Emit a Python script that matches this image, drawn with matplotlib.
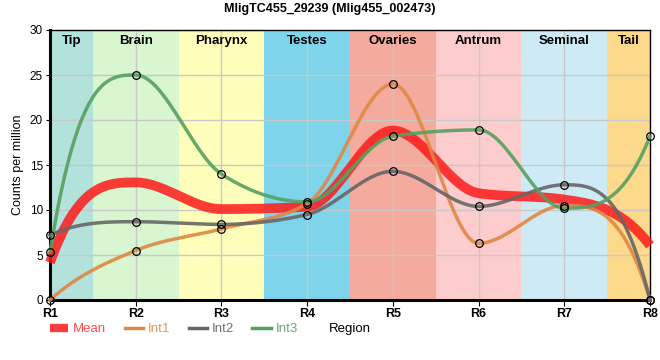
import numpy as np
import matplotlib
matplotlib.use('Agg')
import matplotlib.pyplot as plt
from matplotlib.lines import Line2D

plt.rcParams['font.family'] = ['Liberation Sans', 'DejaVu Sans']

regions = ['R1', 'R2', 'R3', 'R4', 'R5', 'R6', 'R7', 'R8']
int1 = [0.0, 5.5, 7.9, 10.7, 24.0, 6.3, 10.5, 0.0]
int2 = [7.2, 8.7, 8.4, 9.5, 14.3, 10.4, 12.8, 0.0]
int3 = [5.3, 25.0, 14.0, 10.9, 18.2, 18.9, 10.2, 18.2]
mean = list(np.mean([int1, int2, int3], axis=0))

tissues = ['Tip', 'Brain', 'Pharynx', 'Testes', 'Ovaries', 'Antrum', 'Seminal', 'Tail']
tissue_colors = ['#b3e2dd', '#d8f6d0', '#ffffbb', '#7ed4ea', '#f4aa9c',
                 '#fdcccc', '#ceebf5', '#fdda8b']


def slopes(y):
    y = np.asarray(y, float)
    s = np.diff(y)
    m = np.zeros(len(y))
    for i in range(1, len(y) - 1):
        a, b = s[i - 1], s[i]
        if a * b > 0:
            m[i] = 2 * np.sign(a) * min(abs(a), abs(b), abs(a + b) / 4)
    for i, j, d in [(0, 1, s[0]), (len(y) - 1, len(y) - 2, s[-1])]:
        v = 3 * d - 2 * m[j]
        if v * d <= 0:
            v = 0
        elif abs(v) > 3 * abs(d):
            v = 3 * d
        m[i] = v
    return m


def smooth(y, n=60):
    y = np.asarray(y, float)
    m = slopes(y)
    xs, ys = [], []
    for i in range(len(y) - 1):
        t = np.linspace(0, 1, n, endpoint=(i == len(y) - 2))
        h00 = 2 * t**3 - 3 * t**2 + 1
        h10 = t**3 - 2 * t**2 + t
        h01 = -2 * t**3 + 3 * t**2
        h11 = t**3 - t**2
        xs.append(i + t)
        ys.append(h00 * y[i] + h10 * m[i] + h01 * y[i + 1] + h11 * m[i + 1])
    return np.concatenate(xs), np.concatenate(ys)


fig = plt.figure(figsize=(6.6, 3.6), dpi=100)
ax = fig.add_axes([50 / 660, 60 / 360, 600 / 660, 270 / 360])

x = np.arange(len(regions))
for i, (name, c) in enumerate(zip(tissues, tissue_colors)):
    lo = max(i - 0.5, 0)
    hi = min(i + 0.5, len(regions) - 1)
    ax.axvspan(lo, hi, color=c, zorder=0, lw=0)
    ax.text((lo + hi) / 2, 28.8, name, ha='center', va='center',
            fontsize=9.5, fontweight='bold')

ax.set_axisbelow('line')
ax.grid(True, color='#c8c8c8', lw=1)

col_mean = '#ff1a1a'
col1 = '#dd8844'
col2 = '#666666'
col3 = '#55a060'

sx, sy = smooth(mean)
ax.plot(sx, sy, color=col_mean, lw=7, alpha=0.85, solid_capstyle='butt',
        clip_on=False, zorder=3)
for vals, c in [(int1, col1), (int2, col2), (int3, col3)]:
    sx, sy = smooth(vals)
    ax.plot(sx, sy, color=c, lw=2.5, alpha=0.9, clip_on=False, zorder=4)
for vals in [int1, int2, int3]:
    ax.plot(x, vals, 'o', mfc='none', mec='black', ms=5.5, mew=0.9,
            clip_on=False, zorder=6)

ax.set_xlim(0, len(regions) - 1)
ax.set_ylim(0, 30)
ax.set_yticks(range(0, 31, 5))
ax.set_xticks(x)
ax.set_xticklabels(regions, fontweight='bold', fontsize=9)
ax.tick_params(axis='y', labelsize=8.5, length=3, pad=2)
ax.tick_params(axis='x', length=4, pad=2)
for side in ['left', 'bottom']:
    ax.spines[side].set_linewidth(2.2)
for side in ['top', 'right']:
    ax.spines[side].set_linewidth(1)

ax.set_ylabel('Counts per million', fontsize=9, labelpad=4)
ax.set_xlabel('Region', fontsize=9.5)
ax.xaxis.label.set_va('center')
ax.xaxis.set_label_coords(0.5, -29 / 270)

fig.suptitle('MligTC455_29239 (Mlig455_002473)', fontsize=9, fontweight='bold',
             y=1 - 9 / 360, va='center')

handles = [Line2D([], [], color=col_mean, lw=6, alpha=0.85, solid_capstyle='butt'),
           Line2D([], [], color=col1, lw=2.5),
           Line2D([], [], color=col2, lw=2.5),
           Line2D([], [], color=col3, lw=2.5)]
fig.legend(handles, ['Mean', 'Int1', 'Int2', 'Int3'], loc='center left',
           bbox_to_anchor=(50 / 660, 1 - 329 / 360), ncol=4, frameon=False,
           fontsize=9.5, handlelength=1.4, handletextpad=0.35, columnspacing=1.4,
           labelcolor=['#ff4d4d', '#e09a60', '#707070', '#6aaa74'],
           borderpad=0, borderaxespad=0)

fig.savefig('out.png', dpi=100)
